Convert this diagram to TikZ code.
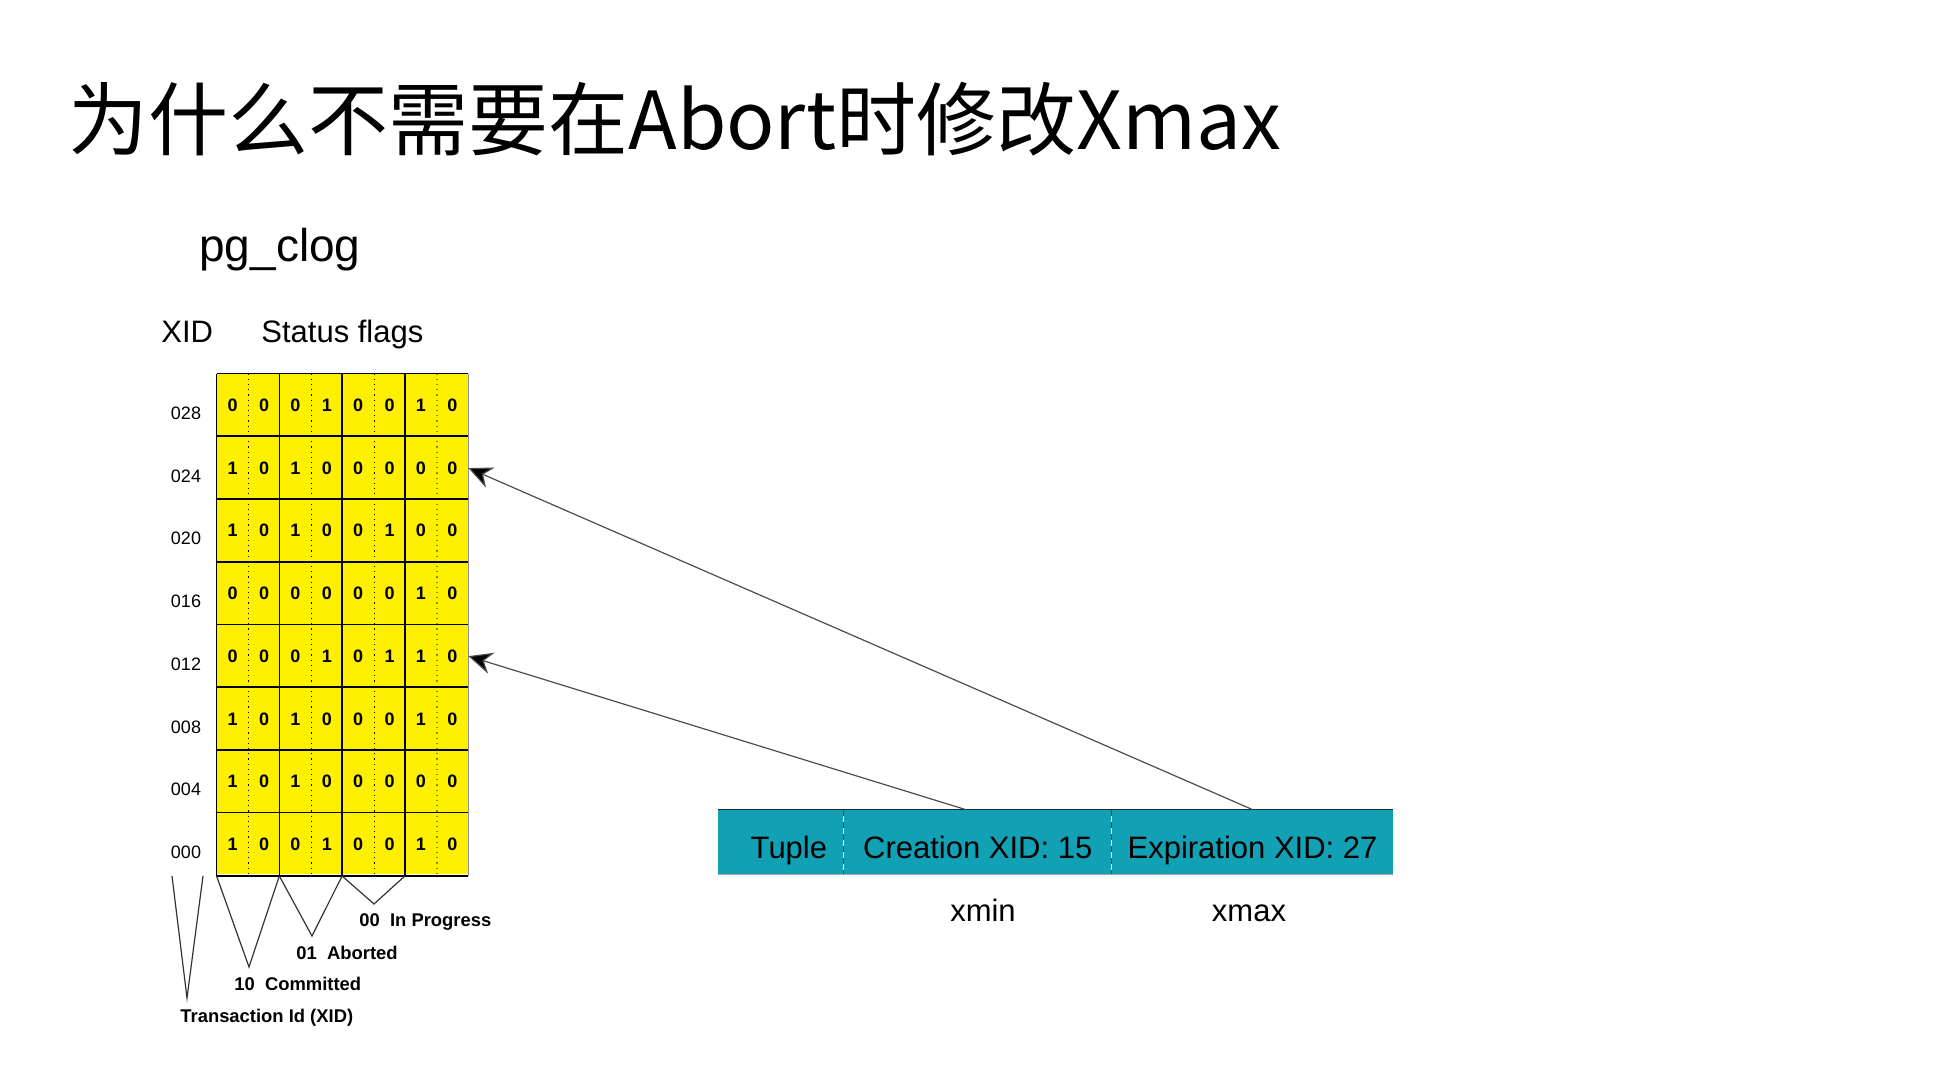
\documentclass[tikz,border=0pt]{standalone}
\usepackage{fontspec}
\setmainfont{Liberation Sans}
\newfontfamily\cjkfont{Noto Sans CJK SC}
\usetikzlibrary{arrows.meta,calc}

\definecolor{clogyellow}{RGB}{255,240,0}
\definecolor{tupleteal}{RGB}{18,160,180}

\begin{document}
\begin{tikzpicture}[x=0.5pt,y=-0.5pt,
  bit/.style={inner sep=0pt, minimum width=15.7pt, minimum height=31.35pt,
              font=\bfseries\fontsize{9}{9}\selectfont},
  xidlabel/.style={inner sep=0pt, font=\fontsize{9}{9}\selectfont},
  legend/.style={anchor=west, inner sep=0pt, font=\bfseries\fontsize{9.2}{10}\selectfont},
  field/.style={anchor=west, fill=tupleteal, minimum height=32pt, inner sep=0pt,
                text height=18pt, text depth=2pt,
                font=\fontsize{15.5}{16}\selectfont},
  caption/.style={anchor=base, inner sep=0pt, font=\fontsize{15.5}{16}\selectfont},
  heading/.style={anchor=base west, inner sep=0pt, font=\fontsize{15.5}{16}\selectfont},
  gridline/.style={draw=black, line width=0.8pt},
  halfline/.style={draw=black, line width=0.6pt, dotted},
  pointer/.style={draw=black!70, line width=0.6pt,
                  -{Stealth[length=12pt,width=11pt,inset=4pt,fill=black]}},
  vee/.style={draw=black!80, line width=0.6pt, line join=miter}
]
\useasboundingbox (0,0) rectangle (1955,1085);

% heading
\node[anchor=base west, inner sep=0pt, font=\cjkfont\fontsize{40}{40}\selectfont]
  (title) at (68,150) {为什么不需要在Abort时修改Xmax};

\node[anchor=base west, inner sep=0pt, font=\fontsize{23}{23}\selectfont]
  (clog) at (199,262) {pg\_clog};
\node[heading] (xidhead) at (161,343) {XID};
\node[heading] (flagshead) at (261,343) {Status flags};

% status flag table
\fill[clogyellow] (217,373) rectangle (468,874);

\foreach \row/\xid/\bits [count=\i] in {
  1/028/{0,0,0,1,0,0,1,0},
  2/024/{1,0,1,0,0,0,0,0},
  3/020/{1,0,1,0,0,1,0,0},
  4/016/{0,0,0,0,0,0,1,0},
  5/012/{0,0,0,1,0,1,1,0},
  6/008/{1,0,1,0,0,0,1,0},
  7/004/{1,0,1,0,0,0,0,0},
  8/000/{1,0,0,1,0,0,1,0}} {
  \node[xidlabel] (xid\row) at (186,{373+62.7*(\row-0.5)+9}) {\xid};
  \foreach \b [count=\j] in \bits {
    \node[bit] (b\row-\j) at ({217+31.375*(\j-0.5)},{373+62.7*(\row-0.5)+1}) {\b};
  }
}

% dotted half-column separators
\foreach \j in {1,3,5}
  \draw[halfline] (b1-\j.north east) -- (b8-\j.south east);
\draw[halfline, draw=black!45!clogyellow] (b1-7.north east) -- (b8-7.south east);

% row separators
\foreach \row in {1,...,8}
  \draw[gridline] (b\row-1.north west) -- (b\row-8.north east);
\draw[gridline] (b8-1.south west) -- (b8-8.south east);

% flag pair separators
\foreach \j in {1,3,5,7}
  \draw[gridline] (b1-\j.north west) -- (b8-\j.south west);
\draw[draw=black!45, line width=0.8pt] (b1-8.north east) -- (b8-8.south east);

% legend below the table
\coordinate (xa) at (172,876);
\coordinate (xb) at (187,998);
\coordinate (xc) at (203,876);
\draw[vee] (xa) -- (xb) -- (xc);

\coordinate (ca) at (b8-1.south west);
\coordinate (cb) at (249,967);
\coordinate (cc) at (b8-3.south west);
\draw[vee] (ca) -- (cb) -- (cc);

\coordinate (ab) at (312,936);
\coordinate (ac) at (b8-5.south west);
\draw[vee] (cc) -- (ab) -- (ac);

\coordinate (pb) at (374,904);
\coordinate (pc) at (b8-7.south west);
\draw[vee] (ac) -- (pb) -- (pc);

\node[legend] (inprog) at (359,922) {00\ \ In Progress};
\node[legend] (aborted) at (296,953) {01\ \ Aborted};
\node[legend] (committed) at (234,984) {10\ \ Committed};
\node[legend] (txid) at (180,1018) {Transaction Id (XID)};

% tuple header
\node[field, minimum width=62.5pt] (tuple) at (718,842) {\hspace{8pt}Tuple};
\node[field, minimum width=133.5pt] (creation) at (tuple.east) {Creation XID: 15};
\node[field, minimum width=140.5pt] (expiration) at (creation.east) {Expiration XID: 27};

\draw[draw=tupleteal!55!black, line width=0.5pt, dashed]
  (tuple.north east) -- (tuple.south east);
\draw[draw=tupleteal!55!black, line width=0.5pt, dashed]
  (creation.north east) -- (creation.south east);
\draw[draw=black!85, line width=0.8pt] (tuple.north west) -- (expiration.north east);
\draw[draw=black!35, line width=0.6pt] (tuple.south west) -- (expiration.south east);

\node[caption] (xmin) at (983,921) {xmin};
\node[caption] (xmax) at (1249,921) {xmax};

% pointers into the commit log
\draw[pointer] ($(creation.north)+(-12,0)$) -- (b5-8.east);
\draw[pointer] (expiration.north) -- (b2-8.east);

\end{tikzpicture}
\end{document}
